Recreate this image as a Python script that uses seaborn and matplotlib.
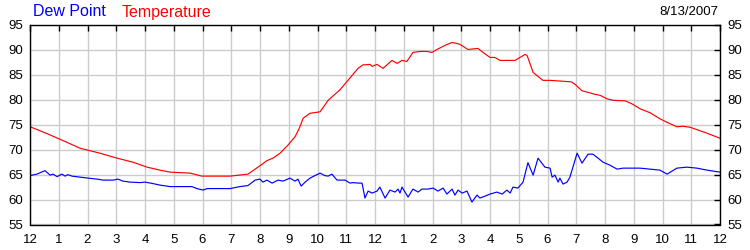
import matplotlib
matplotlib.use("Agg")
import matplotlib.pyplot as plt
import seaborn as sns
import pandas as pd

# ---- data (hours since midnight, °F) ----
temp_hours = [0.00, 0.52, 1.04, 1.74, 2.43, 3.03, 3.58, 4.07, 4.52, 4.87, 5.57, 5.98, 6.96, 7.58,
              8.03, 8.24, 8.45, 8.70, 8.97, 9.22, 9.39, 9.50, 9.74, 9.98, 10.09, 10.37, 10.78,
              11.41, 11.58, 11.83, 11.90, 12.07, 12.28, 12.59, 12.77, 12.94, 13.11, 13.32, 13.57,
              13.81, 13.98, 14.16, 14.43, 14.68, 14.85, 14.96, 15.23, 15.58, 15.76, 16.00, 16.17,
              16.35, 16.87, 17.22, 17.29, 17.50, 17.84, 18.09, 18.83, 18.96, 19.20, 19.48, 19.65,
              19.83, 20.07, 20.28, 20.70, 20.97, 21.22, 21.57, 21.91, 22.19, 22.50, 22.71, 22.96,
              23.55, 24.00]
temp_values = [74.6, 73.4, 72.1, 70.3, 69.3, 68.3, 67.5, 66.5, 65.9, 65.5, 65.3, 64.7, 64.7, 65.1,
               66.9, 67.8, 68.3, 69.3, 70.9, 72.6, 74.6, 76.3, 77.3, 77.5, 77.6, 79.9, 82.0,
               86.3, 87.0, 87.1, 86.7, 87.1, 86.3, 87.9, 87.3, 87.9, 87.7, 89.5, 89.7,
               89.7, 89.5, 90.1, 90.9, 91.5, 91.3, 91.1, 90.1, 90.3, 89.5, 88.5, 88.5,
               87.9, 87.9, 89.1, 88.9, 85.5, 83.9, 83.9, 83.6, 83.1, 81.8, 81.4, 81.1,
               80.9, 80.2, 79.9, 79.8, 79.1, 78.2, 77.4, 76.2, 75.4, 74.6, 74.7, 74.5,
               73.3, 72.3]

dew_hours = [0.00, 0.24, 0.52, 0.70, 0.80, 0.94, 1.11, 1.22, 1.32, 1.46, 1.74, 2.02, 2.33, 2.54,
             2.89, 3.06, 3.23, 3.48, 3.83, 4.00, 4.28, 4.52, 4.87, 5.63, 5.81, 6.02, 6.16, 6.96,
             7.30, 7.58, 7.83, 8.00, 8.10, 8.24, 8.42, 8.63, 8.80, 9.04, 9.22, 9.32, 9.43, 9.57,
             9.74, 9.91, 10.09, 10.26, 10.37, 10.50, 10.68, 10.96, 11.13, 11.23, 11.41, 11.55,
             11.65, 11.76, 11.90, 12.07, 12.17, 12.35, 12.52, 12.70, 12.80, 12.87, 12.94, 13.15,
             13.32, 13.50, 13.63, 13.84, 14.02, 14.19, 14.37, 14.50, 14.68, 14.78, 14.89, 15.03,
             15.20, 15.37, 15.55, 15.65, 15.83, 16.00, 16.24, 16.42, 16.59, 16.70, 16.80, 16.97,
             17.15, 17.32, 17.50, 17.67, 17.91, 18.09, 18.16, 18.26, 18.37, 18.43, 18.54, 18.68,
             18.78, 19.03, 19.20, 19.41, 19.58, 19.76, 19.93, 20.17, 20.42, 20.63, 20.87, 21.22,
             21.57, 21.91, 22.16, 22.50, 22.85, 23.20, 23.55, 24.00]
dew_values = [64.8, 65.1, 65.8, 64.9, 65.1, 64.6, 65.1, 64.7, 65.0, 64.7, 64.5, 64.3, 64.1, 63.9,
              63.9, 64.1, 63.7, 63.5, 63.4, 63.5, 63.2, 62.9, 62.6, 62.6, 62.2, 61.9, 62.2, 62.2,
              62.6, 62.8, 63.9, 64.1, 63.5, 63.9, 63.3, 63.9, 63.7, 64.3, 63.7, 64.1, 62.7, 63.5,
              64.3, 64.8, 65.3, 64.8, 64.7, 65.1, 63.9, 63.9, 63.3, 63.4, 63.3, 63.3,
              60.3, 61.7, 61.3, 61.7, 62.5, 60.3, 61.9, 61.5, 62.1, 61.3, 62.5, 60.5,
              62.1, 61.5, 62.1, 62.1, 62.3, 61.7, 62.3, 61.1, 62.1, 60.9, 61.9, 61.3,
              61.7, 59.5, 60.9, 60.3, 60.7, 61.1, 61.5, 61.1, 61.9, 61.3, 62.5, 62.3,
              63.5, 67.4, 64.9, 68.3, 66.5, 66.3, 64.5, 64.9, 63.5, 64.3, 63.1, 63.5,
              64.5, 69.3, 67.3, 69.1, 69.1, 68.3, 67.5, 66.9, 66.1, 66.3, 66.3, 66.3,
              66.1, 65.9, 65.1, 66.3, 66.5, 66.3, 65.9, 65.5]

x_ticks = list(range(0, 25))
x_tick_labels = ["12", "1", "2", "3", "4", "5", "6", "7", "8", "9", "10", "11",
                 "12", "1", "2", "3", "4", "5", "6", "7", "8", "9", "10", "11", "12"]
y_ticks = [55, 60, 65, 70, 75, 80, 85, 90, 95]
date_label = "8/13/2007"

sns.set_style("white")
plt.rcParams["font.family"] = ["Liberation Sans", "DejaVu Sans"]

df_t = pd.DataFrame({"hour": temp_hours, "value": temp_values})
df_d = pd.DataFrame({"hour": dew_hours, "value": dew_values})

fig = plt.figure(figsize=(7.5, 2.5), dpi=100)
ax = fig.add_axes([30 / 750, 25.5 / 250, 690 / 750, 199.5 / 250])

sns.lineplot(data=df_d, x="hour", y="value", ax=ax, color="#0000FF", linewidth=0.85)
sns.lineplot(data=df_t, x="hour", y="value", ax=ax, color="#FF0000", linewidth=0.85)

ax.set_xlim(0, 24)
ax.set_ylim(55, 95)
ax.set_xticks(x_ticks)
ax.set_xticklabels(x_tick_labels)
ax.set_yticks(y_ticks)
ax.set_xlabel("")
ax.set_ylabel("")

ax.grid(True, color="#CCCCCC", linewidth=1.0)
ax.set_axisbelow(True)
for s in ax.spines.values():
    s.set_color("black")
    s.set_linewidth(1.0)

ax.tick_params(axis="both", which="major", direction="in", length=4, width=1,
               color="black", labelsize=9.5, labelcolor="black",
               top=True, right=True, labelright=True, labelleft=True)
ax.tick_params(axis="x", pad=6.5)
ax.tick_params(axis="y", pad=5)

fig.text(33 / 750, 1 - 12 / 250, "Dew Point", color="#0000FF", fontsize=11.5,
         ha="left", va="center")
fig.text(122 / 750, 1 - 12 / 250, "Temperature", color="#FF0000", fontsize=11.5,
         ha="left", va="center")
fig.text(718 / 750, 1 - 12 / 250, date_label, color="black", fontsize=9.5,
         ha="right", va="center")

fig.savefig("out.png", dpi=100)
